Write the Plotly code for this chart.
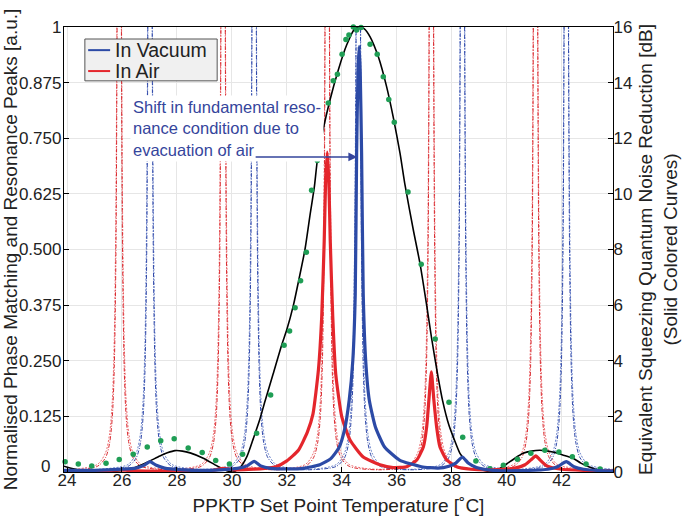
import plotly.graph_objects as go

# ---------------- data ----------------
# Thin resonance peaks (left axis, a.u.) - air (red) and vacuum (blue)
red_thin_x = [23.89,
    25.10, 25.40, 25.55, 25.65, 25.72, 25.78, 25.83, 25.90, 25.97, 26.02, 26.08, 26.15, 26.25, 26.40, 26.70,
    27.79,
    28.88, 29.18, 29.33, 29.43, 29.50, 29.56, 29.61, 29.68, 29.75, 29.80, 29.86, 29.93, 30.03, 30.18, 30.48,
    31.575,
    32.67, 32.97, 33.12, 33.22, 33.29, 33.35, 33.40, 33.47, 33.54, 33.59, 33.65, 33.72, 33.82, 33.97, 34.27,
    35.365,
    36.46, 36.76, 36.91, 37.01, 37.08, 37.14, 37.19, 37.26, 37.33, 37.38, 37.44, 37.51, 37.61, 37.76, 38.06,
    39.155,
    40.25, 40.55, 40.70, 40.80, 40.87, 40.93, 40.98, 41.05, 41.12, 41.17, 41.23, 41.30, 41.40, 41.55, 41.85,
    43.87]
red_thin_a = [0.003,
    0.0126, 0.032, 0.065, 0.125, 0.235, 0.49, 1.17, 4.0, 1.17, 0.49, 0.235, 0.125, 0.065, 0.032, 0.0126,
    0.005,
    0.0126, 0.032, 0.065, 0.125, 0.235, 0.49, 1.17, 4.0, 1.17, 0.49, 0.235, 0.125, 0.065, 0.032, 0.0126,
    0.005,
    0.0126, 0.032, 0.065, 0.125, 0.235, 0.49, 1.17, 4.0, 1.17, 0.49, 0.235, 0.125, 0.065, 0.032, 0.0126,
    0.005,
    0.0126, 0.032, 0.065, 0.125, 0.235, 0.49, 1.17, 4.0, 1.17, 0.49, 0.235, 0.125, 0.065, 0.032, 0.0126,
    0.005,
    0.0126, 0.032, 0.065, 0.125, 0.235, 0.49, 1.17, 4.0, 1.17, 0.49, 0.235, 0.125, 0.065, 0.032, 0.0126,
    0.003]
red_thin_b = [0.004,
    0.0168, 0.043, 0.086, 0.163, 0.30, 0.60, 1.27, 3.0, 1.27, 0.60, 0.30, 0.163, 0.086, 0.043, 0.0168,
    0.006,
    0.0168, 0.043, 0.086, 0.163, 0.30, 0.60, 1.27, 3.0, 1.27, 0.60, 0.30, 0.163, 0.086, 0.043, 0.0168,
    0.006,
    0.0168, 0.043, 0.086, 0.163, 0.30, 0.60, 1.27, 3.0, 1.27, 0.60, 0.30, 0.163, 0.086, 0.043, 0.0168,
    0.006,
    0.0168, 0.043, 0.086, 0.163, 0.30, 0.60, 1.27, 3.0, 1.27, 0.60, 0.30, 0.163, 0.086, 0.043, 0.0168,
    0.006,
    0.0168, 0.043, 0.086, 0.163, 0.30, 0.60, 1.27, 3.0, 1.27, 0.60, 0.30, 0.163, 0.086, 0.043, 0.0168,
    0.004]

blue_thin_x = [23.89,
    25.125,
    26.22, 26.52, 26.67, 26.77, 26.84, 26.90, 26.95, 27.02, 27.09, 27.14, 27.20, 27.27, 27.37, 27.52, 27.82,
    28.915,
    30.01, 30.31, 30.46, 30.56, 30.63, 30.69, 30.74, 30.81, 30.88, 30.93, 30.99, 31.06, 31.16, 31.31, 31.61,
    32.705,
    33.80, 34.10, 34.25, 34.35, 34.42, 34.48, 34.53, 34.60, 34.67, 34.72, 34.78, 34.85, 34.95, 35.10, 35.40,
    36.495,
    37.59, 37.89, 38.04, 38.14, 38.21, 38.27, 38.32, 38.39, 38.46, 38.51, 38.57, 38.64, 38.74, 38.89, 39.19,
    40.28,
    41.37, 41.67, 41.82, 41.92, 41.99, 42.05, 42.10, 42.17, 42.24, 42.29, 42.35, 42.42, 42.52, 42.67, 42.97,
    43.87]
blue_thin_a = [0.002,
    0.005,
    0.0126, 0.032, 0.065, 0.125, 0.235, 0.49, 1.17, 4.0, 1.17, 0.49, 0.235, 0.125, 0.065, 0.032, 0.0126,
    0.005,
    0.0126, 0.032, 0.065, 0.125, 0.235, 0.49, 1.17, 4.0, 1.17, 0.49, 0.235, 0.125, 0.065, 0.032, 0.0126,
    0.005,
    0.0126, 0.032, 0.065, 0.125, 0.235, 0.49, 1.17, 4.0, 1.17, 0.49, 0.235, 0.125, 0.065, 0.032, 0.0126,
    0.005,
    0.0126, 0.032, 0.065, 0.125, 0.235, 0.49, 1.17, 4.0, 1.17, 0.49, 0.235, 0.125, 0.065, 0.032, 0.0126,
    0.005,
    0.0126, 0.032, 0.065, 0.125, 0.235, 0.49, 1.17, 4.0, 1.17, 0.49, 0.235, 0.125, 0.065, 0.032, 0.0126,
    0.005]
blue_thin_b = [0.003,
    0.006,
    0.0168, 0.043, 0.086, 0.163, 0.30, 0.60, 1.27, 3.0, 1.27, 0.60, 0.30, 0.163, 0.086, 0.043, 0.0168,
    0.006,
    0.0168, 0.043, 0.086, 0.163, 0.30, 0.60, 1.27, 3.0, 1.27, 0.60, 0.30, 0.163, 0.086, 0.043, 0.0168,
    0.006,
    0.0168, 0.043, 0.086, 0.163, 0.30, 0.60, 1.27, 3.0, 1.27, 0.60, 0.30, 0.163, 0.086, 0.043, 0.0168,
    0.006,
    0.0168, 0.043, 0.086, 0.163, 0.30, 0.60, 1.27, 3.0, 1.27, 0.60, 0.30, 0.163, 0.086, 0.043, 0.0168,
    0.006,
    0.0168, 0.043, 0.086, 0.163, 0.30, 0.60, 1.27, 3.0, 1.27, 0.60, 0.30, 0.163, 0.086, 0.043, 0.0168,
    0.006]

# Squeezing (right axis, dB) - solid coloured curves
vac_sq_t = [23.89, 25.0, 26.0, 26.5, 26.8, 27.02, 27.25, 27.55, 28.2, 28.9, 29.6, 30.2, 30.55, 30.81,
            31.05, 31.4, 32.0, 32.6, 33.2, 33.6, 33.9, 34.1, 34.27, 34.40, 34.49, 34.54, 34.59, 34.63,
            34.67, 34.72, 34.78, 34.87, 35.0, 35.22, 35.55, 36.1, 36.9, 37.5, 37.9, 38.15, 38.39, 38.6,
            38.9, 39.5, 40.5, 41.5, 41.85, 42.17, 42.45, 42.8, 43.4, 43.87]
vac_sq_db = [0.06, 0.06, 0.10, 0.14, 0.24, 0.37, 0.24, 0.14, 0.08, 0.06, 0.08, 0.13, 0.22, 0.38,
             0.22, 0.13, 0.11, 0.13, 0.26, 0.48, 0.88, 1.52, 2.59, 4.0, 6.4, 11.5, 14.4, 15.3,
             14.4, 11.5, 6.4, 4.0, 2.59, 1.63, 0.91, 0.43, 0.19, 0.14, 0.21, 0.32, 0.54, 0.32,
             0.16, 0.06, 0.05, 0.10, 0.19, 0.37, 0.19, 0.10, 0.05, 0.03]
air_sq_t = [23.89, 25.5, 25.9, 26.3, 27.8, 29.3, 29.68, 30.1, 30.8, 31.2, 31.6, 32.0, 32.42, 32.75,
            32.95, 33.15, 33.27, 33.36, 33.41, 33.47, 33.53, 33.58, 33.67, 33.78, 34.0, 34.3, 34.78,
            35.39, 35.87, 36.36, 36.73, 36.97, 37.09, 37.17, 37.26, 37.35, 37.45, 37.57, 37.82, 38.18,
            38.7, 39.5, 40.3, 40.67, 40.9, 41.06, 41.2, 41.46, 42.0, 43.0, 43.87]
air_sq_db = [0.03, 0.05, 0.08, 0.05, 0.03, 0.06, 0.13, 0.08, 0.10, 0.13, 0.19, 0.40, 0.78, 1.44,
             2.08, 3.68, 5.6, 8.3, 10.4, 11.5, 10.4, 8.3, 5.6, 3.52, 1.98, 1.15, 0.54,
             0.26, 0.16, 0.19, 0.43, 0.91, 1.63, 2.59, 3.6, 2.59, 1.63, 0.91, 0.43, 0.19,
             0.10, 0.08, 0.14, 0.26, 0.45, 0.58, 0.45, 0.22, 0.10, 0.05, 0.03]

# Phase matching fit (black) and measured points (green)
pm_fit_t = [23.89, 24.23, 24.6, 24.96, 25.3, 25.6, 25.93, 26.41, 26.7, 27.02, 27.38, 27.65, 27.93,
            28.2, 28.48, 28.96, 29.45, 29.81, 30.05, 30.3, 30.55, 30.78, 31.0, 31.21, 31.5, 31.81,
            32.0, 32.24, 32.43, 32.66, 32.85, 33.0, 33.11, 33.33, 33.57, 33.87, 34.18, 34.48, 34.65,
            34.82, 35.03, 35.33, 35.63, 35.87, 36.12, 36.3, 36.6, 36.85, 37.1, 37.27, 37.5, 37.67,
            37.9, 38.08, 38.3, 38.55, 38.8, 39.03, 39.3, 39.51, 39.75, 40.0, 40.3, 40.6, 40.9, 41.21,
            41.5, 41.82, 42.1, 42.42, 42.7, 43.03, 43.3, 43.52, 43.87]
pm_fit_v = [0.013, 0.007, 0.003, 0.001, 0.0, 0.001, 0.003, 0.009, 0.016, 0.025, 0.036, 0.043, 0.048,
            0.047, 0.043, 0.031, 0.014, 0.003, 0.0, 0.01, 0.035, 0.075, 0.115, 0.16, 0.22, 0.285,
            0.32, 0.375, 0.43, 0.50, 0.58, 0.64, 0.70, 0.772, 0.836, 0.903, 0.96, 0.997, 1.0,
            0.996, 0.978, 0.933, 0.866, 0.798, 0.716, 0.645, 0.545, 0.467, 0.37, 0.30, 0.215, 0.16,
            0.105, 0.075, 0.042, 0.023, 0.012, 0.006, 0.002, 0.0, 0.008, 0.018, 0.031, 0.042, 0.047, 0.049,
            0.047, 0.043, 0.037, 0.031, 0.02, 0.0105, 0.005, 0.003, 0.0]
pm_meas_t = [23.93, 24.41, 24.90, 25.42, 25.90, 26.41, 26.92, 27.41, 27.90, 28.41, 28.92, 29.41, 29.91,
             30.39, 30.90, 31.41, 31.90, 32.10, 32.30, 32.50, 32.71, 32.90, 33.11, 33.51, 33.69, 33.84,
             34.01, 34.15, 34.26, 34.42, 34.54, 34.70, 35.03, 35.29, 35.51, 35.71, 35.91, 36.41, 36.89,
             37.40, 37.90, 38.40, 38.88, 39.39, 39.88, 40.39, 40.88, 41.39, 41.90, 42.39, 42.89, 43.40]
pm_meas_v = [0.023, 0.018, 0.0135, 0.0195, 0.028, 0.040, 0.056, 0.070, 0.075, 0.054, 0.044, 0.026, 0.018,
             0.040, 0.087, 0.173, 0.285, 0.317, 0.369, 0.430, 0.494, 0.633, 0.700, 0.829, 0.879, 0.894,
             0.939, 0.972, 0.982, 1.0, 0.993, 0.999, 0.961, 0.939, 0.888, 0.837, 0.786, 0.629, 0.467,
             0.299, 0.157, 0.078, 0.025, 0.0075, 0.015, 0.0285, 0.042, 0.049, 0.045, 0.034, 0.018, 0.0067]

x_ticks = [24, 26, 28, 30, 32, 34, 36, 38, 40, 42]
y_ticks = [0, 0.125, 0.25, 0.375, 0.5, 0.625, 0.75, 0.875, 1]
y_tick_labels = ["0", "0.125", "0.250", "0.375", "0.500", "0.625", "0.750", "0.875", "1"]
y2_ticks = [0, 2, 4, 6, 8, 10, 12, 14, 16]
legend_names = ["In Vacuum", "In Air"]

# ---------------- styles ----------------
BLUE = "#2c4aa6"
RED = "#e4262c"
ANN = "#35459c"
FONT = "Liberation Sans, Arial, sans-serif"
TXT = "#222222"

fig = go.Figure()

thin_dash = "4px,1.5px,1px,1.5px"
fig.add_trace(go.Scatter(x=red_thin_x, y=red_thin_b, mode="lines", showlegend=False, hoverinfo="skip",
                         line=dict(color="rgba(232,70,75,0.8)", width=1, dash="2px,1.5px", shape="spline", smoothing=0.8)))
fig.add_trace(go.Scatter(x=red_thin_x, y=red_thin_a, mode="lines", showlegend=False, hoverinfo="skip",
                         line=dict(color="rgba(215,35,40,0.95)", width=1, dash=thin_dash, shape="spline", smoothing=0.8)))
fig.add_trace(go.Scatter(x=blue_thin_x, y=blue_thin_b, mode="lines", showlegend=False, hoverinfo="skip",
                         line=dict(color="rgba(70,100,190,0.8)", width=1, dash="2px,1.5px", shape="spline", smoothing=0.8)))
fig.add_trace(go.Scatter(x=blue_thin_x, y=blue_thin_a, mode="lines", showlegend=False, hoverinfo="skip",
                         line=dict(color="rgba(40,65,165,0.95)", width=1, dash=thin_dash, shape="spline", smoothing=0.8)))

fig.add_trace(go.Scatter(x=pm_fit_t, y=pm_fit_v, mode="lines", showlegend=False,
                         line=dict(color="black", width=1.6, shape="spline", smoothing=0.6)))
fig.add_trace(go.Scatter(x=pm_meas_t, y=pm_meas_v, mode="markers", showlegend=False, cliponaxis=False,
                         marker=dict(color="#1f9e55", size=5.5)))

fig.add_trace(go.Scatter(x=air_sq_t, y=air_sq_db, yaxis="y2", mode="lines", name="In Air", showlegend=False,
                         line=dict(color=RED, width=3.2, shape="spline", smoothing=0.5)))
fig.add_trace(go.Scatter(x=vac_sq_t, y=vac_sq_db, yaxis="y2", mode="lines", name="In Vacuum", showlegend=False,
                         line=dict(color=BLUE, width=3.2, shape="spline", smoothing=0.5)))

# compact legend box (paper coordinates)
shapes = [
    dict(type="rect", xref="paper", yref="paper", x0=0.038, x1=0.279, y0=0.879, y1=0.973,
         fillcolor="#f0f0f0", line=dict(color="#555555", width=1), layer="above"),
    dict(type="line", xref="paper", yref="paper", x0=0.044, x1=0.084, y0=0.948, y1=0.948,
         line=dict(color=BLUE, width=2), layer="above"),
    dict(type="line", xref="paper", yref="paper", x0=0.044, x1=0.084, y0=0.901, y1=0.901,
         line=dict(color=RED, width=2), layer="above"),
]
legend_ann = [
    dict(x=0.089, y=0.948, xref="paper", yref="paper", xanchor="left", yanchor="middle",
         text=legend_names[0], showarrow=False, font=dict(size=19.5, color=TXT, family=FONT)),
    dict(x=0.089, y=0.901, xref="paper", yref="paper", xanchor="left", yanchor="middle",
         text=legend_names[1], showarrow=False, font=dict(size=19.5, color=TXT, family=FONT)),
]
# the "0" label of the left axis sits a little up and left of its tick, as in the reference
zero_ann = [dict(x=0, y=y_ticks[0], xref="paper", yref="y", xanchor="right", yanchor="middle",
                 xshift=-12, yshift=6, text=y_tick_labels[0], showarrow=False,
                 font=dict(size=17, color=TXT, family=FONT))]
y_tick_text_shown = [""] + y_tick_labels[1:]

fig.update_layout(
    width=685, height=519,
    margin=dict(l=64, r=72, t=27, b=47, autoexpand=False),
    paper_bgcolor="white", plot_bgcolor="white",
    font=dict(family=FONT, color=TXT, size=17),
    showlegend=False,
    xaxis=dict(range=[23.89, 43.87], tickvals=x_ticks, ticks="inside", ticklen=5,
               tickcolor="black", showline=True, linecolor="black", linewidth=1.3, mirror=True,
               showgrid=True, gridcolor="#e6e6e6", gridwidth=1, zeroline=False, automargin=False,
               tickfont=dict(size=17), ticklabelstandoff=-8,
               title=dict(text="PPKTP Set Point Temperature [˚C]", font=dict(size=19), standoff=10)),
    yaxis=dict(range=[0, 1], tickvals=y_ticks, ticktext=y_tick_text_shown, ticks="inside", ticklen=5,
               tickcolor="black", showline=True, linecolor="black", linewidth=1.3,
               showgrid=True, gridcolor="#e6e6e6", gridwidth=1, zeroline=False, automargin=False,
               tickfont=dict(size=17), ticklabelstandoff=-2,
               title=dict(text="Normalised Phase Matching and Resonance Peaks [a.u.]",
                          font=dict(size=19), standoff=0)),
    yaxis2=dict(range=[0, 16], tickvals=y2_ticks, overlaying="y", side="right", ticks="inside",
                ticklen=5, tickcolor="black", showline=True, linecolor="black", linewidth=1.3,
                showgrid=False, zeroline=False, automargin=False, tickfont=dict(size=17), ticklabelstandoff=-4,
                title=dict(text="Equivalent Squeezing Quantum Noise Reduction [dB]<br>(Solid Colored Curves)",
                           font=dict(size=19), standoff=7)),
    shapes=shapes,
    annotations=[
        dict(x=26.29, y=0.848, xref="x", yref="y", xanchor="left", yanchor="top",
             text="Shift in fundamental reso-<br>nance condition due to<br>evacuation of air",
             showarrow=False, align="left", bgcolor="white", borderpad=2,
             font=dict(size=16.5, color=ANN, family=FONT)),
        dict(x=34.56, y=0.708, xref="x", yref="y", ax=30.81, ay=0.708, axref="x", ayref="y",
             text="", showarrow=True, arrowhead=2, arrowsize=1.1, arrowwidth=1.6, arrowcolor=ANN),
    ] + legend_ann + zero_ann,
)

fig.write_html("out.html", config={"displayModeBar": False},
               post_script="document.body.style.margin='0';document.body.style.overflow='hidden';")
